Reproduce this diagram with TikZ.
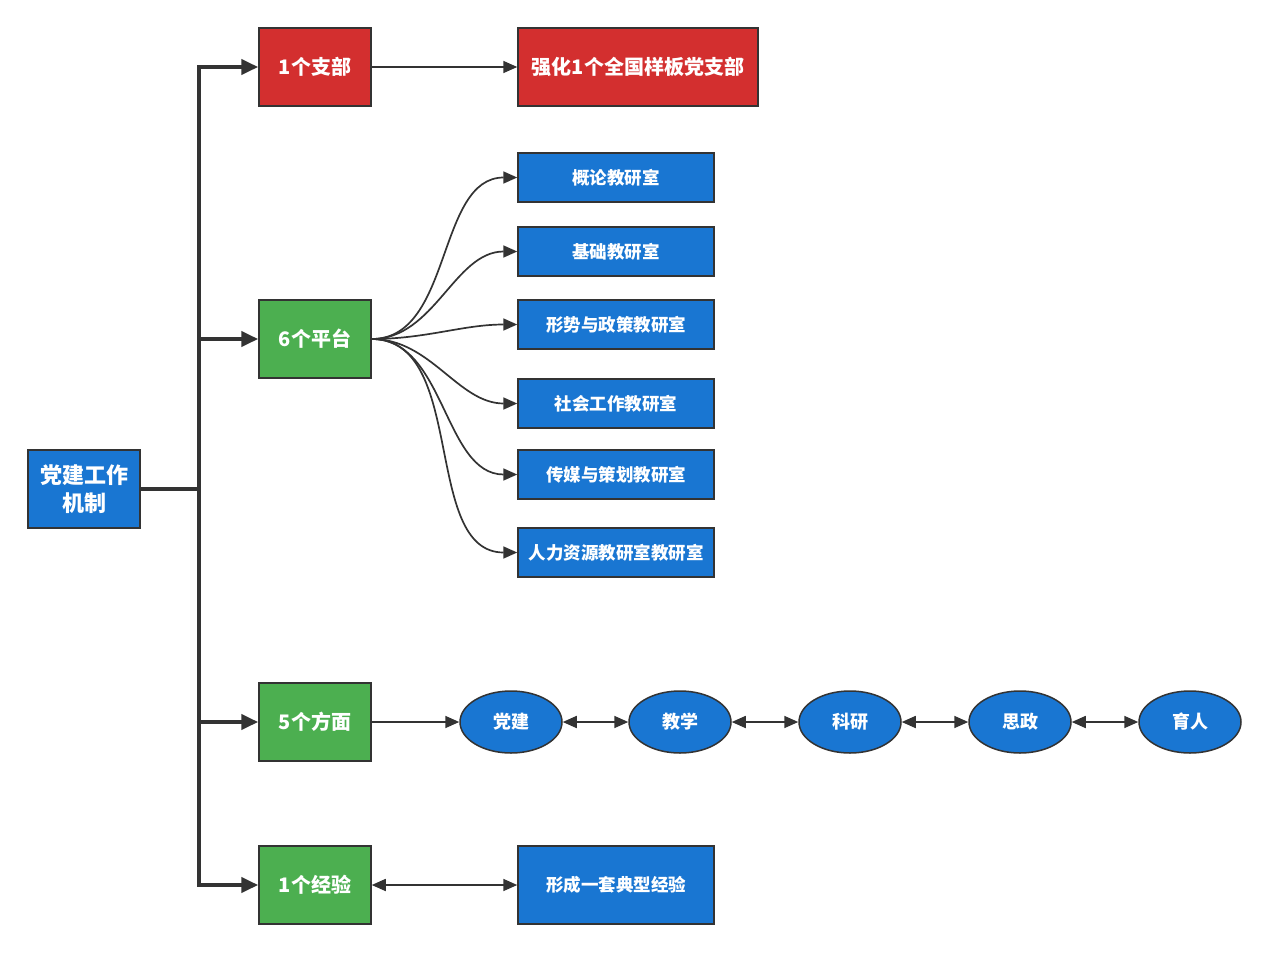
\documentclass[tikz,border=0pt]{standalone}
\usepackage{fontspec}
\setmainfont{Noto Sans CJK SC}
\usetikzlibrary{shapes.geometric,arrows.meta}
\definecolor{cred}{HTML}{D32F2F}
\definecolor{cgreen}{HTML}{4CAF50}
\definecolor{cblue}{HTML}{1976D2}
\definecolor{cline}{HTML}{333333}
\begin{document}
\begin{tikzpicture}[x=1pt,y=-1pt,
  box/.style={draw=cline,line width=1.5pt,text=white,font=\bfseries\fontsize{20}{24}\selectfont,inner sep=0pt,align=center},
  redbox/.style={box,fill=cred},
  greenbox/.style={box,fill=cgreen,minimum width=112pt,minimum height=78pt},
  bluebox/.style={box,fill=cblue,minimum width=196pt,minimum height=49pt,font=\bfseries\fontsize{17.5}{22}\selectfont},
  oval/.style={box,ellipse,fill=cblue,minimum width=102pt,minimum height=62pt,font=\bfseries\fontsize{18}{22}\selectfont},
  trunk/.style={line width=4pt,draw=cline,-{Triangle[length=17pt,width=15pt]}},
  thin/.style={line width=1.7pt,draw=cline,-{Triangle[length=14pt,width=12pt]}},
  both/.style={line width=1.7pt,draw=cline,{Triangle[length=14pt,width=12pt]}-{Triangle[length=14pt,width=12pt]}}
]
\useasboundingbox[fill=white] (0,0) rectangle (1269,953);
\node[box,fill=cblue,minimum width=112pt,minimum height=78pt,font=\bfseries\fontsize{22}{28}\selectfont] (main) at (84,489) {党建工作\\机制};
\node[redbox,minimum width=112pt,minimum height=78pt] (b1) at (315,67) {1个支部};
\node[redbox,minimum width=240pt,minimum height=78pt] (r1) at (638,67) {强化1个全国样板党支部};
\node[greenbox] (b2) at (315,339) {6个平台};
\node[greenbox] (b3) at (315,722) {5个方面};
\node[greenbox] (b4) at (315,885) {1个经验};
\node[bluebox] (p1) at (616,177.5) {概论教研室};
\node[bluebox] (p2) at (616,251.5) {基础教研室};
\node[bluebox] (p3) at (616,324.5) {形势与政策教研室};
\node[bluebox] (p4) at (616,403.5) {社会工作教研室};
\node[bluebox] (p5) at (616,474.5) {传媒与策划教研室};
\node[bluebox] (p6) at (616,552.5) {人力资源教研室教研室};
\node[oval] (e1) at (511,722) {党建};
\node[oval] (e2) at (680,722) {教学};
\node[oval] (e3) at (850,722) {科研};
\node[oval] (e4) at (1020,722) {思政};
\node[oval] (e5) at (1190,722) {育人};
\node[bluebox,minimum height=78pt] (x1) at (616,885) {形成一套典型经验};
\coordinate (j) at (199,489);
\draw[line width=4pt,draw=cline] (main.east) -- (j);
\draw[trunk] (j) |- (b1.west);
\draw[trunk] (j) |- (b2.west);
\draw[trunk] (j) |- (b3.west);
\draw[trunk] (j) |- (b4.west);
\draw[thin] (b1.east) -- (r1.west);
\foreach \p in {p1,p2,p3,p4,p5,p6}{
  \draw[thin] (b2.east) to[out=0,in=180,looseness=0.95] (\p.west);
}
\draw[thin] (b3.east) -- (e1.west);
\draw[both] (e1.east) -- (e2.west);
\draw[both] (e2.east) -- (e3.west);
\draw[both] (e3.east) -- (e4.west);
\draw[both] (e4.east) -- (e5.west);
\draw[both] (b4.east) -- (x1.west);
\end{tikzpicture}
\end{document}
